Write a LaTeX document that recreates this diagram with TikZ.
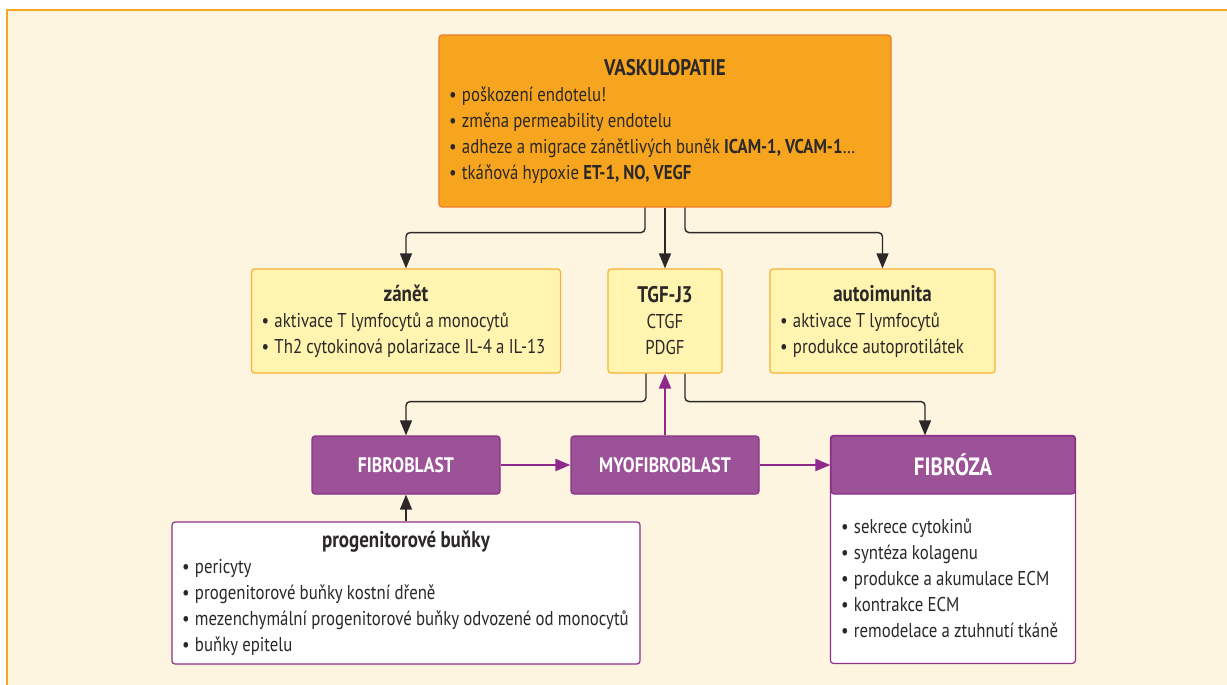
\documentclass[tikz,border=0pt]{standalone}
\usepackage{fontspec}
\setmainfont{PT Sans}[FakeStretch=0.84]
\usepackage{xcolor}
\usepackage{tikz}
\usetikzlibrary{arrows.meta, backgrounds}

\definecolor{krem}{HTML}{FEF5E1}
\definecolor{ramec}{HTML}{F7A823}
\definecolor{oranzova}{HTML}{F7A51F}
\definecolor{oranzlem}{HTML}{EF7D2B}
\definecolor{zluta}{HTML}{FFF5B0}
\definecolor{zlutlem}{HTML}{F8B133}
\definecolor{fialova}{HTML}{9B5297}
\definecolor{fiallem}{HTML}{8C3089}
\definecolor{fialsipka}{HTML}{8E2A8B}
\definecolor{tmava}{HTML}{2B2827}

\newcommand{\itm}[1]{\makebox[6.5pt][l]{\textbullet}\mbox{#1}}
\newcommand{\nadpis}[1]{{\centering\fontsize{11.3}{13}\selectfont\bfseries #1\par}}

\begin{document}
\begin{tikzpicture}[x=0.5pt, y=-0.5pt,
  every node/.style={font=\fontsize{10}{13}\selectfont, text=tmava, execute at begin node={\spaceskip=2.1pt plus 1pt\relax}},
  vaskbox/.style={draw=oranzlem, fill=oranzova, line width=0.6pt, rounded corners=1.5pt, inner xsep=5pt, align=left},
  zlutybox/.style={draw=zlutlem, fill=zluta, line width=0.6pt, rounded corners=1.5pt, inner xsep=5pt, minimum height=52pt, align=left},
  fialbox/.style={draw=fiallem, fill=fialova, line width=0.6pt, rounded corners=1.5pt, minimum width=94pt, minimum height=29pt, text=white, font=\fontsize{10.5}{13}\selectfont\bfseries},
  bilybox/.style={draw=fiallem, fill=white, line width=0.6pt, rounded corners=1.5pt, inner xsep=5pt, align=left},
  seznam/.style={inner xsep=5pt, align=left},
  sipka/.style={draw=tmava, line width=0.7pt, rounded corners=2pt, -{Triangle[width=6pt,length=7.5pt]}},
  fsipka/.style={draw=fialsipka, line width=1pt, -{Triangle[width=6pt,length=7.5pt]}}]

  \useasboundingbox (0,0) rectangle (1227,685);

  % horni box
  \node[vaskbox, minimum width=226pt, minimum height=86pt, text width=216pt] (vasku) at (665,121)
    {\nadpis{VASKULOPATIE}
     \itm{poškození endotelu!}\\
     \itm{změna permeability endotelu}\\
     \itm{adheze a migrace zánětlivých buněk \textbf{ICAM-1, VCAM-1}\ldots}\\
     \itm{tkáňová hypoxie \textbf{ET-1, NO, VEGF}}};

  % prostredni rada
  \node[zlutybox, minimum width=154.5pt, text width=144.5pt] (zanet) at (406,321)
    {\nadpis{zánět}
     \itm{aktivace T lymfocytů a monocytů}\\
     \itm{Th2 cytokinová polarizace IL-4 a IL-13}};
  \node[zlutybox, minimum width=57pt, text width=47pt, align=center] (tgf) at (665,321)
    {\nadpis{TGF-J3}CTGF\\PDGF};
  \node[zlutybox, minimum width=112.5pt, text width=102.5pt] (autoim) at (882.5,321)
    {\nadpis{autoimunita}
     \itm{aktivace T lymfocytů}\\
     \itm{produkce autoprotilátek}};

  % fialove bunky
  \node[fialbox] (fibroblast) at (406,465) {FIBROBLAST};
  \node[fialbox] (myo) at (665,465) {MYOFIBROBLAST};
  \node[fialbox, minimum width=122pt, font=\fontsize{12.5}{13}\selectfont\bfseries] (fibhead) at (953,465) {FIBRÓZA};
  \node[seznam, minimum width=122pt, minimum height=84.5pt, text width=112pt] (fibtext) at (953,578.5)
    {\itm{sekrece cytokinů}\\
     \itm{syntéza kolagenu}\\
     \itm{produkce a akumulace ECM}\\
     \itm{kontrakce ECM}\\
     \itm{remodelace a ztuhnutí tkáně}};

  % spodni box
  \node[bilybox, minimum width=234pt, minimum height=71pt, text width=224pt] (progen) at (406,593)
    {\nadpis{progenitorové buňky}
     \itm{pericyty}\\
     \itm{progenitorové buňky kostní dřeně}\\
     \itm{mezenchymální progenitorové buňky odvozené od monocytů}\\
     \itm{buňky epitelu}};

  % sipky
  \draw[sipka] ([xshift=-10pt]vasku.south) -- ++(0,25) -| (zanet.north);
  \draw[sipka] (vasku.south) -- (tgf.north);
  \draw[sipka] ([xshift=10pt]vasku.south) -- ++(0,25) -| (autoim.north);
  \draw[sipka] ([xshift=-9.5pt]tgf.south) -- ++(0,28) -| (fibroblast.north);
  \draw[sipka] ([xshift=10pt]tgf.south) -- ++(0,28) -| ([xshift=-14pt]fibhead.north);
  \draw[fsipka] (myo.north) -- (tgf.south);
  \draw[fsipka] (fibroblast.east) -- (myo.west);
  \draw[fsipka] (myo.east) -- (fibhead.west);
  \draw[sipka] (progen.north) -- (fibroblast.south);

  % pozadi
  \begin{scope}[on background layer]
    \fill[krem] (7,10) rectangle (1227,685);
    \draw[ramec, line width=0.8pt] (7,685) -- (7,10) -- (1227,10);
    \draw[bilybox] (fibhead.north west) rectangle (fibtext.south east);
  \end{scope}
\end{tikzpicture}
\end{document}
